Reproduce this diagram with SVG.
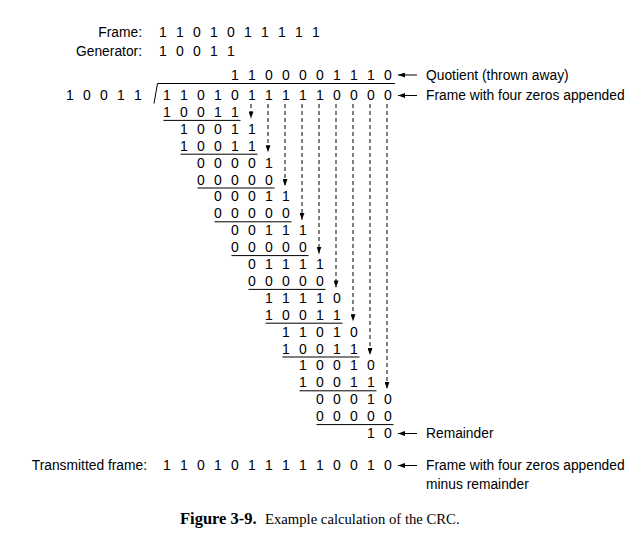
<svg xmlns="http://www.w3.org/2000/svg" width="642" height="541" viewBox="0 0 642 541">
<style>
text{font-family:"Liberation Sans",Arial,Helvetica,sans-serif;fill:#000}
.d{font-size:14px;text-anchor:middle}
.l{font-size:13.8px}
.r{font-size:13.8px;text-anchor:end}
.ul{stroke:#000;stroke-width:1;fill:none}
.dash{stroke:#000;stroke-width:1;stroke-dasharray:4 3;fill:none}
.arr{stroke:#000;stroke-width:1;fill:none}
.cap{font-family:"Liberation Serif","Times New Roman",serif}
</style>
<defs>
<marker id="ah" viewBox="0 0 10 10" refX="10" refY="5" markerWidth="7" markerHeight="5" preserveAspectRatio="none" markerUnits="userSpaceOnUse" orient="auto">
<path d="M0,0 L10,5 L0,10 z" fill="#000"/>
</marker>
</defs>
<rect width="642" height="541" fill="#fff"/>

<g id="frame">
<text class="r" x="142" y="36.5">Frame:</text>
<text class="d" x="163 171.5 180 188.5 197 205.5 214 222.5 231 239.5 248 256.5 265 273.5 282 290.5 299 307.5 316" y="36.5">1 1 0 1 0 1 1 1 1 1</text>
</g>
<g id="generator">
<text class="r" x="142" y="56">Generator:</text>
<text class="d" x="163 171.5 180 188.5 197 205.5 214 222.5 231" y="56">1 0 0 1 1</text>
</g>

<g id="quotient">
<text class="d" x="235 243.5 252 260.5 269 277.5 286 294.5 303 311.5 320 328.5 337 345.5 354 362.5 371 379.5 388" y="79.5">1 1 0 0 0 0 1 1 1 0</text>
<text class="l" x="426" y="79.5">Quotient (thrown away)</text>
</g>

<g id="divisor">
<text class="d" x="70 78.5 87 95.5 104 112.5 121 129.5 138" y="100">1 0 0 1 1</text>
<path class="ul" d="M154,103.5 L157.5,83.5 L395,83.5"/>
</g>

<g id="dividend">
<text class="d" x="167 175.5 184 192.5 201 209.5 218 226.5 235 243.5 252 260.5 269 277.5 286 294.5 303 311.5 320 328.5 337 345.5 354 362.5 371 379.5 388" y="100">1 1 0 1 0 1 1 1 1 1 0 0 0 0</text>
<text class="l" x="426" y="100">Frame with four zeros appended</text>
</g>

<g id="steps">
<text class="d" x="167 175.5 184 192.5 201 209.5 218 226.5 235" y="116.9">1 0 0 1 1</text>
<text class="d" x="184 192.5 201 209.5 218 226.5 235 243.5 252" y="133.8">1 0 0 1 1</text>
<text class="d" x="184 192.5 201 209.5 218 226.5 235 243.5 252" y="150.7">1 0 0 1 1</text>
<text class="d" x="201 209.5 218 226.5 235 243.5 252 260.5 269" y="167.6">0 0 0 0 1</text>
<text class="d" x="201 209.5 218 226.5 235 243.5 252 260.5 269" y="184.5">0 0 0 0 0</text>
<text class="d" x="218 226.5 235 243.5 252 260.5 269 277.5 286" y="201.4">0 0 0 1 1</text>
<text class="d" x="218 226.5 235 243.5 252 260.5 269 277.5 286" y="218.3">0 0 0 0 0</text>
<text class="d" x="235 243.5 252 260.5 269 277.5 286 294.5 303" y="235.2">0 0 1 1 1</text>
<text class="d" x="235 243.5 252 260.5 269 277.5 286 294.5 303" y="252.1">0 0 0 0 0</text>
<text class="d" x="252 260.5 269 277.5 286 294.5 303 311.5 320" y="269">0 1 1 1 1</text>
<text class="d" x="252 260.5 269 277.5 286 294.5 303 311.5 320" y="285.9">0 0 0 0 0</text>
<text class="d" x="269 277.5 286 294.5 303 311.5 320 328.5 337" y="302.8">1 1 1 1 0</text>
<text class="d" x="269 277.5 286 294.5 303 311.5 320 328.5 337" y="319.7">1 0 0 1 1</text>
<text class="d" x="286 294.5 303 311.5 320 328.5 337 345.5 354" y="336.6">1 1 0 1 0</text>
<text class="d" x="286 294.5 303 311.5 320 328.5 337 345.5 354" y="353.5">1 0 0 1 1</text>
<text class="d" x="303 311.5 320 328.5 337 345.5 354 362.5 371" y="370.4">1 0 0 1 0</text>
<text class="d" x="303 311.5 320 328.5 337 345.5 354 362.5 371" y="387.3">1 0 0 1 1</text>
<text class="d" x="320 328.5 337 345.5 354 362.5 371 379.5 388" y="404.2">0 0 0 1 0</text>
<text class="d" x="320 328.5 337 345.5 354 362.5 371 379.5 388" y="421.1">0 0 0 0 0</text>
<path class="ul" d="M163.5,120.4H240.5 M180.5,154.2H257.5 M197.5,188H274.5 M214.5,221.8H291.5 M231.5,255.6H308.5 M248.5,289.4H325.5 M265.5,323.2H342.5 M282.5,357H359.5 M299.5,390.8H376.5 M316.5,424.6H393.5"/>
</g>

<g id="remainder">
<text class="d" x="371 379.5 388" y="438">1 0</text>
<text class="l" x="426" y="438">Remainder</text>
</g>

<g id="transmitted">
<text class="r" x="147" y="470">Transmitted frame:</text>
<text class="d" x="167 175.5 184 192.5 201 209.5 218 226.5 235 243.5 252 260.5 269 277.5 286 294.5 303 311.5 320 328.5 337 345.5 354 362.5 371 379.5 388" y="470">1 1 0 1 0 1 1 1 1 1 0 0 1 0</text>
<text class="l" x="426" y="470">Frame with four zeros appended</text>
<text class="l" x="426" y="488.5">minus remainder</text>
</g>

<g id="connectors">
<line class="dash" x1="251" y1="104" x2="251" y2="118.4" marker-end="url(#ah)"/>
<line class="dash" x1="268" y1="104" x2="268" y2="152.2" marker-end="url(#ah)"/>
<line class="dash" x1="285" y1="104" x2="285" y2="186" marker-end="url(#ah)"/>
<line class="dash" x1="302" y1="104" x2="302" y2="219.8" marker-end="url(#ah)"/>
<line class="dash" x1="319" y1="104" x2="319" y2="253.6" marker-end="url(#ah)"/>
<line class="dash" x1="336" y1="104" x2="336" y2="287.4" marker-end="url(#ah)"/>
<line class="dash" x1="353" y1="104" x2="353" y2="321.2" marker-end="url(#ah)"/>
<line class="dash" x1="370" y1="104" x2="370" y2="355" marker-end="url(#ah)"/>
<line class="dash" x1="387" y1="104" x2="387" y2="388.8" marker-end="url(#ah)"/>
<line class="arr" x1="417" y1="75" x2="398" y2="75" marker-end="url(#ah)"/>
<line class="arr" x1="417" y1="95.5" x2="398" y2="95.5" marker-end="url(#ah)"/>
<line class="arr" x1="417" y1="433.5" x2="398" y2="433.5" marker-end="url(#ah)"/>
<line class="arr" x1="417" y1="465.5" x2="398" y2="465.5" marker-end="url(#ah)"/>
</g>

<g id="caption">
<text class="cap" y="524"><tspan x="180" font-weight="bold" font-size="16.5px">Figure 3-9.</tspan><tspan x="265" font-size="14.7px">Example calculation of the CRC.</tspan></text>
</g>
</svg>
